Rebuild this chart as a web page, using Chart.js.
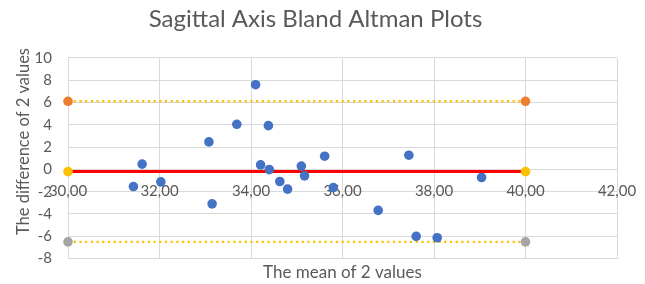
<!DOCTYPE html>
<html>
<head>
<meta charset="utf-8">
<script src="https://cdn.jsdelivr.net/npm/chart.js@4/dist/chart.umd.min.js"></script>
<style>
  html, body { margin: 0; padding: 0; background: #fff; }
  #wrap { width: 645px; height: 284px; }
</style>
</head>
<body>
<div id="wrap"><canvas id="baChart"></canvas></div>
<script>
// mean of the two measurements (x) and their difference (y)
const meanValues = [31.43, 31.62, 32.03, 33.08, 33.15, 33.69, 34.10, 34.21, 34.38, 34.40, 34.63,
                    34.80, 35.10, 35.17, 35.61, 35.80, 36.78, 37.45, 37.61, 38.07, 39.04];
const diffValues = [-1.54, 0.47, -1.12, 2.46, -3.09, 4.04, 7.59, 0.40, 3.92, -0.02, -1.09,
                    -1.77, 0.29, -0.58, 1.18, -1.63, -3.68, 1.27, -6.01, -6.13, -0.73];

// bias and limits of agreement, drawn from x = 30 to x = 40
const limitX = [30, 40];
const biasLine = [-0.2, -0.2];
const upperLimit = [6.1, 6.1];
const lowerLimit = [-6.5, -6.5];

const textGrey = "#595959";
const gridGrey = "#d9d9d9";
const fontName = "Lato, 'Open Sans', sans-serif";

function pairs(xs, ys) {
    return xs.map((x, i) => ({ x: x, y: ys[i] }));
}

const ctx = document.getElementById("baChart").getContext("2d");

new Chart(ctx, {
    type: "scatter",
    data: {
        datasets: [
            {
                label: "Differences",
                data: pairs(meanValues, diffValues),
                backgroundColor: "#4472c4",
                borderWidth: 0,
                pointRadius: 4.8
            },
            {
                label: "Upper limit",
                data: pairs(limitX, upperLimit),
                showLine: true,
                clip: false,
                borderColor: "#ffc000",
                borderWidth: 2.4,
                borderDash: [2.2, 3.5],
                backgroundColor: "#ed7d31",
                pointBorderWidth: 0,
                pointRadius: 4.8
            },
            {
                label: "Mean",
                data: pairs(limitX, biasLine),
                showLine: true,
                clip: false,
                borderColor: "#ff0000",
                borderWidth: 3,
                backgroundColor: "#ffc000",
                pointBorderWidth: 0,
                pointRadius: 4.8
            },
            {
                label: "Lower limit",
                data: pairs(limitX, lowerLimit),
                showLine: true,
                clip: false,
                borderColor: "#ffc000",
                borderWidth: 2.4,
                borderDash: [2.2, 3.5],
                backgroundColor: "#a5a5a5",
                pointBorderWidth: 0,
                pointRadius: 4.8
            }
        ]
    },
    options: {
        responsive: true,
        maintainAspectRatio: false,
        animation: false,
        layout: { padding: { left: 14, right: 28, top: 0, bottom: 1 } },
        plugins: {
            legend: { display: false },
            tooltip: { enabled: false },
            title: {
                display: true,
                text: "Sagittal Axis Bland Altman Plots",
                color: textGrey,
                font: { family: fontName, size: 24, weight: "normal" },
                padding: { top: 5, bottom: 24 }
            }
        },
        scales: {
            x: {
                type: "linear",
                position: { y: 0 },
                min: 30,
                max: 42,
                grid: { color: gridGrey, drawTicks: false },
                border: { display: false },
                ticks: {
                    stepSize: 2,
                    padding: 13,
                    color: textGrey,
                    font: { family: fontName, size: 15 },
                    callback: v => v.toFixed(2).replace(".", ",")
                },
                afterFit: scale => { scale.paddingRight = 0; }
            },
            xTitle: {
                type: "linear",
                axis: "x",
                position: "bottom",
                min: 30,
                max: 42,
                grid: { display: false, drawTicks: false },
                border: { display: false },
                ticks: { display: false },
                title: {
                    display: true,
                    text: "The mean of 2 values",
                    color: textGrey,
                    font: { family: fontName, size: 17 },
                    padding: { top: 4, bottom: 0 }
                }
            },
            y: {
                min: -8,
                max: 10,
                grid: { color: gridGrey, drawTicks: false },
                border: { display: false },
                ticks: {
                    stepSize: 2,
                    padding: 16,
                    color: textGrey,
                    font: { family: fontName, size: 15 }
                },
                title: {
                    display: true,
                    // leading spaces lift the label a little above the axis middle, as in the original
                    text: "\u00a0".repeat(8) + "The difference of 2 values",
                    color: textGrey,
                    font: { family: fontName, size: 16.5 },
                    padding: { top: 0, bottom: 2 }
                },
                afterFit: scale => { scale.width = 54; }
            }
        }
    }
});
</script>
</body>
</html>
